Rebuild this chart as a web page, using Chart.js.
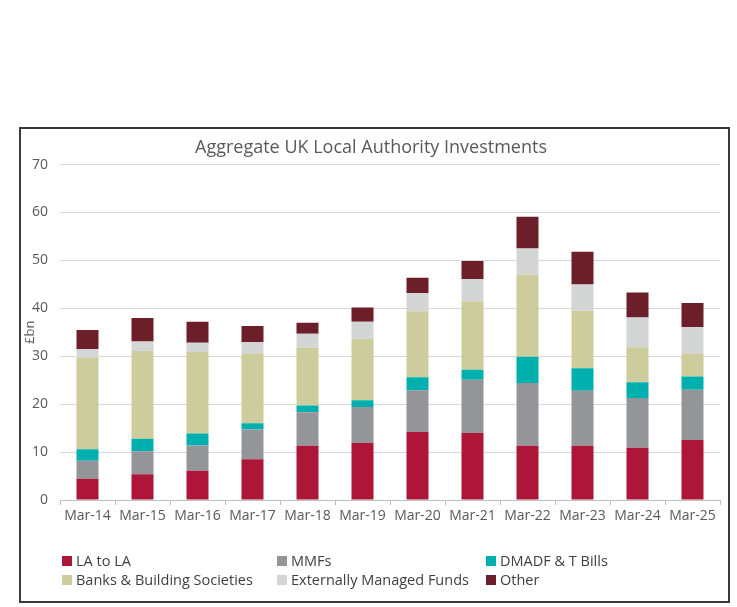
<!DOCTYPE html>
<html>
<head>
<meta charset="utf-8">
<script src="https://cdn.jsdelivr.net/npm/chart.js@4.4.1/dist/chart.umd.min.js"></script>
<style>
  html, body { margin: 0; padding: 0; background: #fff; }
  body { width: 737px; height: 607px; position: relative; overflow: hidden; font-family: 'Open Sans', sans-serif; }
  #frame { position: absolute; left: 19px; top: 127px; width: 707px; height: 472px; border: 2px solid #3a3a3a; }
  #wrap { position: absolute; left: 22px; top: 130px; width: 705px; height: 410px; }
  #legend { position: absolute; left: 0; top: 0; width: 737px; height: 607px; pointer-events: none; }
  .item { position: absolute; font-size: 14.5px; color: #404040; white-space: nowrap; line-height: 18px; }
  .item span.box { display: inline-block; width: 10px; height: 10px; margin-right: 4px; vertical-align: 0px; }
</style>
</head>
<body>
<div id="frame"></div>
<div id="wrap"><canvas id="chart"></canvas></div>
<div id="legend"></div>
<script>
const categories = ['Mar-14', 'Mar-15', 'Mar-16', 'Mar-17', 'Mar-18', 'Mar-19', 'Mar-20', 'Mar-21', 'Mar-22', 'Mar-23', 'Mar-24', 'Mar-25']

// £bn per year
const laToLa = [4.45, 5.4, 6.1, 8.5, 11.3, 11.9, 14.2, 14.0, 11.3, 11.3, 10.9, 12.5]
const mmfs = [3.75, 4.8, 5.3, 6.2, 7.0, 7.5, 8.7, 11.1, 13.1, 11.5, 10.4, 10.5]
const dmadf = [2.4, 2.6, 2.5, 1.3, 1.4, 1.4, 2.7, 2.1, 5.5, 4.7, 3.3, 2.8]
const banks = [19.1, 18.3, 17.0, 14.6, 12.1, 12.8, 13.8, 14.3, 17.1, 12.0, 7.3, 4.8]
const externalFunds = [1.8, 2.0, 1.9, 2.3, 2.9, 3.6, 3.8, 4.6, 5.5, 5.5, 6.2, 5.5]
const other = [4.0, 4.9, 4.4, 3.4, 2.3, 3.0, 3.2, 3.8, 6.6, 6.8, 5.2, 5.0]

const yTicks = [0, 10, 20, 30, 40, 50, 60, 70]

const seriesNames = ['LA to LA', 'MMFs', 'DMADF & T Bills', 'Banks & Building Societies', 'Externally Managed Funds', 'Other']
const seriesColours = ['#ad1638', '#939598', '#00b0af', '#cccc9c', '#d4d5d5', '#6c1f28']
const seriesData = [laToLa, mmfs, dmadf, banks, externalFunds, other]

const fontFamily = "'Open Sans', sans-serif"

const chart = new Chart(document.getElementById('chart').getContext('2d'), {
  type: 'bar',
  data: {
    labels: categories,
    datasets: seriesNames.map((name, i) => ({
      label: name,
      data: seriesData[i],
      backgroundColor: seriesColours[i],
      borderWidth: 0,
      barPercentage: 0.4,
      categoryPercentage: 1
    }))
  },
  options: {
    responsive: true,
    maintainAspectRatio: false,
    animation: false,
    layout: { padding: { left: 0, right: 7, top: 0, bottom: 0 } },
    plugins: {
      legend: { display: false },
      tooltip: { enabled: false },
      title: {
        display: true,
        text: 'Aggregate UK Local Authority Investments',
        color: '#595959',
        font: { family: fontFamily, size: 18, weight: 'normal' },
        padding: { top: 7, bottom: 6 }
      }
    },
    scales: {
      x: {
        stacked: true,
        grid: { display: true, drawOnChartArea: false, tickLength: 5, color: '#bfbfbf', offset: true },
        border: { color: '#bfbfbf' },
        ticks: { color: '#595959', font: { family: fontFamily, size: 14 }, maxRotation: 0, padding: 3 },
        afterFit: (scale) => { scale.height = 40 }
      },
      y: {
        stacked: true,
        min: 0,
        max: 70,
        afterBuildTicks: (scale) => { scale.ticks = yTicks.map((v) => ({ value: v })) },
        grid: { color: '#d9d9d9', drawTicks: false },
        border: { display: false },
        ticks: { color: '#595959', font: { family: fontFamily, size: 14 }, padding: 12 },
        title: { display: true, text: '£bn', color: '#595959', font: { family: fontFamily, size: 13 }, padding: 0 },
        afterFit: (scale) => { scale.width = 38 }
      }
    }
  }
})

// legend laid out as a 3 x 2 grid like the original
const legendPos = [[62, 552], [277, 552], [486, 552], [62, 571], [277, 571], [486, 571]]
const legendEl = document.getElementById('legend')
chart.data.datasets.forEach((ds, i) => {
  const item = document.createElement('div')
  item.className = 'item'
  item.style.left = legendPos[i][0] + 'px'
  item.style.top = legendPos[i][1] + 'px'
  item.innerHTML = '<span class="box" style="background:' + ds.backgroundColor + '"></span>'
  item.appendChild(document.createTextNode(ds.label))
  legendEl.appendChild(item)
})
</script>
</body>
</html>
